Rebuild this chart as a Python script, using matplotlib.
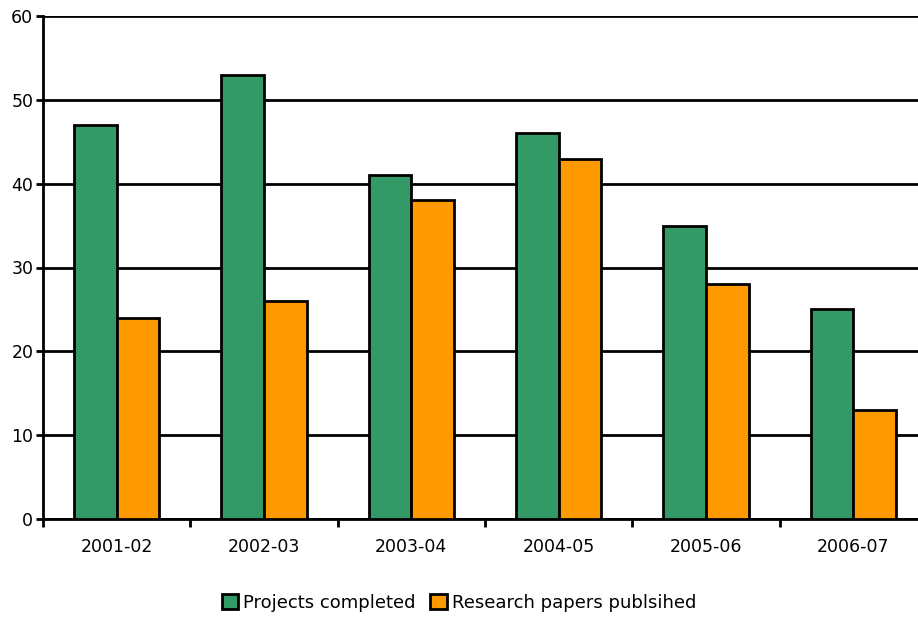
import matplotlib.pyplot as plt
import numpy as np

years = ['2001-02', '2002-03', '2003-04', '2004-05', '2005-06', '2006-07']
projects = [47, 53, 41, 46, 35, 25]
papers = [24, 26, 38, 43, 28, 13]

green = '#339966'
orange = '#FF9900'

fig = plt.figure(figsize=(9.18, 6.21), dpi=100)
ax = fig.add_axes([43 / 918, 1 - 519 / 621, 884 / 918, (519 - 16) / 621])

x = np.arange(len(years))
w = 0.29
ax.bar(x - w / 2, projects, w, color=green, edgecolor='black', linewidth=2,
       label='Projects completed', zorder=3)
ax.bar(x + w / 2, papers, w, color=orange, edgecolor='black', linewidth=2,
       label='Research papers publsihed', zorder=3)

ax.set_xlim(-0.5, len(years) - 0.5)
ax.set_ylim(0, 60)
ax.set_yticks(range(0, 61, 10))
ax.yaxis.grid(True, color='black', linewidth=2, zorder=0)
ax.set_axisbelow(True)

# category labels centred, ticks on the boundaries between groups
ax.set_xticks(x)
ax.set_xticklabels(years, fontsize=12.5)
ax.tick_params(axis='x', length=0, pad=14)
ax.set_xticks(np.arange(-0.5, len(years)), minor=True)
ax.tick_params(axis='x', which='minor', length=6, width=2, direction='out')
ax.tick_params(axis='y', length=5, width=2, labelsize=12.5, pad=2)

for s in ['top', 'right']:
    ax.spines[s].set_visible(False)
for s in ['left', 'bottom']:
    ax.spines[s].set_linewidth(2)

fig.legend(loc='center', bbox_to_anchor=(0.5, 1 - 603 / 621), ncol=2,
           frameon=False, fontsize=13, handlelength=0.9, handleheight=0.9,
           handletextpad=0.3, columnspacing=0.8)

fig.savefig('out.png', dpi=100)
